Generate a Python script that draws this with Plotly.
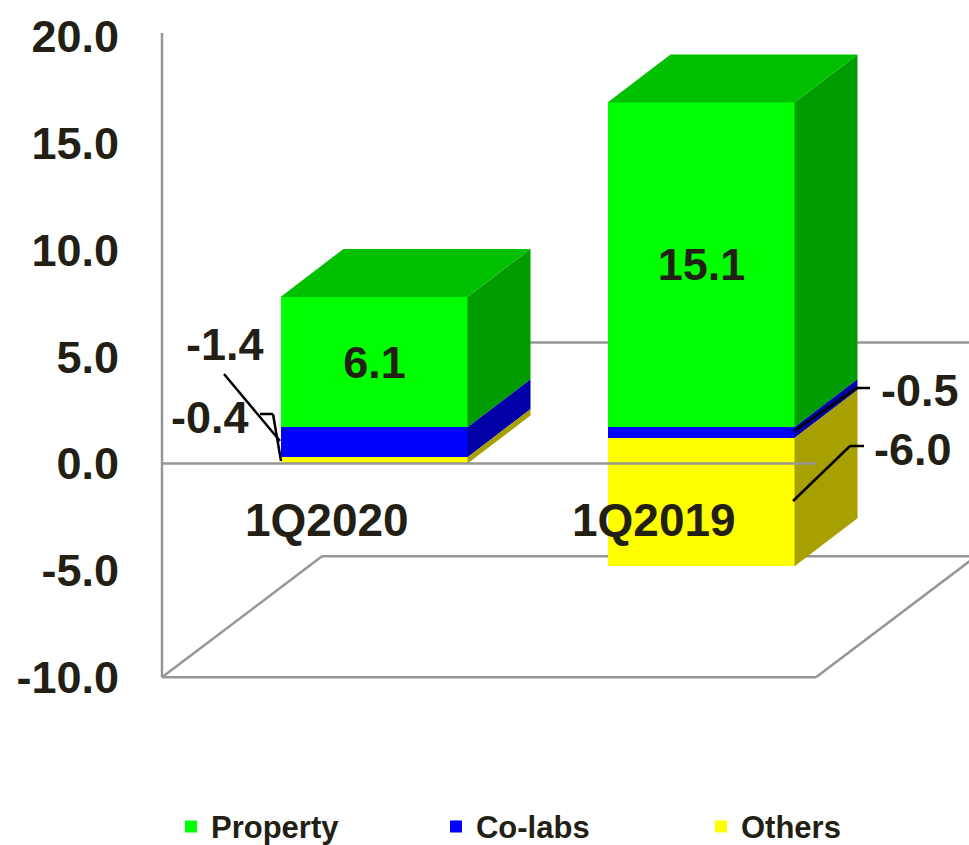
import plotly.graph_objects as go

# ---- data ----
categories = ["1Q2020", "1Q2019"]
positions = [0, 1]
stack_start = [0.0, -4.8]
others = [0.3, 6.0]
colabs = [1.4, 0.5]
prop = [6.1, 15.2]
prop_labels = ["6.1", "15.1"]
others_labels = ["-0.4", "-6.0"]
colabs_labels = ["-1.4", "-0.5"]
tick_values = [-10, -5, 0, 5, 10, 15, 20]
tick_labels = ["-10.0", "-5.0", "0.0", "5.0", "10.0", "15.0", "20.0"]

# ---- geometry ----
W, H = 969, 845
PLOT_L, PLOT_T, PLOT_B = 158, 30, 682
PX_PER_CAT = 327.0
PX_PER_UNIT = 21.37
X0_PX, ZERO_PX = 162.0, 463.6


def xv(p):
    return (p - X0_PX) / PX_PER_CAT - 0.5


def yv(p):
    return (ZERO_PX - p) / PX_PER_UNIT


BAR_SHIFT = 48.5 / PX_PER_CAT
BAR_W = 187 / PX_PER_CAT
D_X, D_Y = 63 / PX_PER_CAT, 48 / PX_PER_UNIT
FLOOR_DX, FLOOR_DY = 160 / PX_PER_CAT, 121 / PX_PER_UNIT
Y_MIN, X_MIN = -10.0, -0.5
X_FRONT_END = X_MIN + 654 / PX_PER_CAT
GREY = "#969696"
TEXT = "#231F14"
FONT = "Liberation Sans"

centers = [p + BAR_SHIFT for p in positions]
colabs_base = [s + o for s, o in zip(stack_start, others)]
prop_base = [b + c for b, c in zip(colabs_base, colabs)]

fig = go.Figure()

series = [
    ("Property", prop, prop_base, "#00FF00", "#009C00"),
    ("Co-labs", colabs, colabs_base, "#0000FF", "#0000A6"),
    ("Others", others, stack_start, "#FFFF00", "#A8A000"),
]
for name, vals, base, col, side in series:
    fig.add_bar(
        name=name, x=centers, y=vals, base=base, width=BAR_W,
        marker=dict(color=col, line=dict(width=0)),
        text=prop_labels if name == "Property" else None,
        textposition="inside" if name == "Property" else None,
        insidetextanchor="middle", textangle=0,
        hoverinfo="skip",
    )

# side faces and tops, built from the stack values
for name, vals, base, col, side in series:
    for c, v, b in zip(centers, vals, base):
        r = c + BAR_W / 2
        fig.add_scatter(
            x=[r, r + D_X, r + D_X, r, r], y=[b, b + D_Y, b + v + D_Y, b + v, b],
            mode="lines", line=dict(width=0), fill="toself", fillcolor=side,
            showlegend=False, hoverinfo="skip",
        )
for c, v, b in zip(centers, prop, prop_base):
    l, r, t = c - BAR_W / 2, c + BAR_W / 2, b + v
    fig.add_scatter(
        x=[l, r, r + D_X, l + D_X, l], y=[t, t, t + D_Y, t + D_Y, t],
        mode="lines", line=dict(width=0), fill="toself", fillcolor="#00C000",
        showlegend=False, hoverinfo="skip",
    )

shapes = []


def seg(x0, y0, x1, y1, layer="below"):
    shapes.append(dict(type="line", xref="x", yref="y", x0=x0, y0=y0, x1=x1, y1=y1,
                       layer=layer, line=dict(color=GREY, width=2.5)))


# walls and floor
seg(X_MIN, Y_MIN, X_MIN, yv(33))
seg(X_MIN, Y_MIN, X_FRONT_END, Y_MIN)
seg(X_MIN, Y_MIN, X_MIN + FLOOR_DX, Y_MIN + FLOOR_DY)
seg(X_FRONT_END, Y_MIN, X_FRONT_END + FLOOR_DX, Y_MIN + FLOOR_DY)
seg(X_MIN + FLOOR_DX, Y_MIN + FLOOR_DY, X_FRONT_END + FLOOR_DX, Y_MIN + FLOOR_DY)
seg(X_MIN + FLOOR_DX, FLOOR_DY, X_FRONT_END + FLOOR_DX, FLOOR_DY)
seg(X_MIN, 0, X_FRONT_END, 0, layer="above")

# leader lines of the outside labels
leaders = [
    [(224, 374), (280, 441)],
    [(260, 414), (273, 414), (281, 461)],
    [(794, 431), (857, 388), (870, 388)],
    [(793, 501), (850, 446), (864, 446)],
]
for pts in leaders:
    for (a, b), (c, d) in zip(pts[:-1], pts[1:]):
        shapes.append(dict(type="line", xref="x", yref="y", x0=xv(a), y0=yv(b), x1=xv(c), y1=yv(d),
                           layer="above", line=dict(color="#000000", width=2.5)))

annotations = []


def note(text, px, py, size=45):
    annotations.append(dict(text=text, x=xv(px), y=yv(py), xref="x", yref="y", showarrow=False,
                            xanchor="center", yanchor="middle",
                            font=dict(family=FONT, size=size, color=TEXT, weight="bold")))


for cat, p in zip(categories, positions):
    annotations.append(dict(text=cat, x=p + 1 / PX_PER_CAT, y=-2.62, xref="x", yref="y", showarrow=False,
                            xanchor="center", yanchor="middle",
                            font=dict(family=FONT, size=46, color=TEXT, weight="bold")))
note(colabs_labels[0], 225, 344)
note(others_labels[0], 210, 417)
note(colabs_labels[1], 920, 390)
note(others_labels[1], 913, 449)

x_max = xv(W)
x_left = xv(PLOT_L)
fig.update_layout(
    width=W, height=H, autosize=False,
    margin=dict(l=PLOT_L, r=0, t=PLOT_T, b=H - PLOT_B, pad=0, autoexpand=False),
    paper_bgcolor="white", plot_bgcolor="white",
    barmode="overlay", bargap=0,
    xaxis=dict(range=[x_left, x_max], visible=False, fixedrange=True),
    yaxis=dict(range=[yv(PLOT_B), yv(PLOT_T)], tickmode="array", tickvals=tick_values, ticktext=tick_labels,
               showgrid=False, zeroline=False, showline=False, ticks="", ticklabelstandoff=38,
               tickfont=dict(family=FONT, size=45, color=TEXT, weight="bold"), fixedrange=True),
    shapes=shapes, annotations=annotations,
    legend=dict(orientation="h", x=0.016, xanchor="left", y=-0.222, yanchor="middle", entrywidth=220,
                entrywidthmode="pixels", itemclick=False,
                font=dict(family=FONT, size=31, color=TEXT, weight="bold")),
)
fig.update_traces(selector=dict(type="bar"),
                  textfont=dict(family=FONT, size=45, color=TEXT, weight="bold"),
                  insidetextfont=dict(family=FONT, size=45, color=TEXT, weight="bold"))
fig.write_html("out.html", config=dict(displayModeBar=False),
               post_script="document.body.style.margin='0';document.body.style.overflow='hidden';")
